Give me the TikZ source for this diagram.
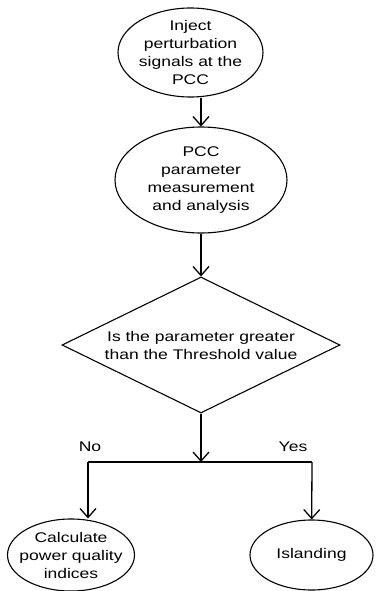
\documentclass[tikz,border=0pt]{standalone}
\usepackage{fontspec}
\setmainfont{Liberation Sans}[FakeStretch=1.25]
\usetikzlibrary{shapes.geometric,arrows.meta}

\begin{document}
\begin{tikzpicture}[x=1pt,y=1pt,
  every node/.style={font=\fontsize{14}{18}\selectfont, align=center},
  oval/.style={draw, ellipse, line width=1.1pt, inner xsep=-15pt, inner ysep=-8pt},
  choice/.style={draw, diamond, line width=1.1pt, aspect=2.04, inner sep=0pt},
  flow/.style={line width=1.3pt, -{Straight Barb[length=9pt,width=16pt]}}]
\useasboundingbox (0,0) rectangle (388,-591);
\node [oval, minimum width=145pt, minimum height=89pt] (inject) at (190.5,-52.5) {Inject\\perturbation\\signals at the\\PCC};
\node [oval, minimum width=172pt, minimum height=106pt] (pcc) at (201,-180) {PCC\\parameter\\measurement\\and analysis};
\node [choice, minimum width=278pt, minimum height=136pt] (test) at (201,-345) {Is the parameter greater\\than the Threshold value};
\coordinate (split) at (201,-462);
\coordinate (noL) at (88,-462);
\coordinate (yesR) at (312,-462);
\node [oval, minimum width=127pt, minimum height=72pt] (calc) at (71,-555) {Calculate\\power quality\\indices};
\node [oval, minimum width=123pt, minimum height=70pt] (island) at (311.5,-555) {Islanding};
\node (no) at (90,-447) {No};
\node (yes) at (293,-447) {Yes};

\draw [flow] (inject.south -| pcc) -- (pcc);
\draw [flow] (pcc) -- (test);
\draw [flow] (test) -- (split);
\draw [line width=1.3pt] (noL) -- (yesR);

% branch arrows down to the two outcomes
\draw [flow] (noL) -- (noL |- calc.north);
\draw [flow] (yesR) -- (island);
\end{tikzpicture}
\end{document}
